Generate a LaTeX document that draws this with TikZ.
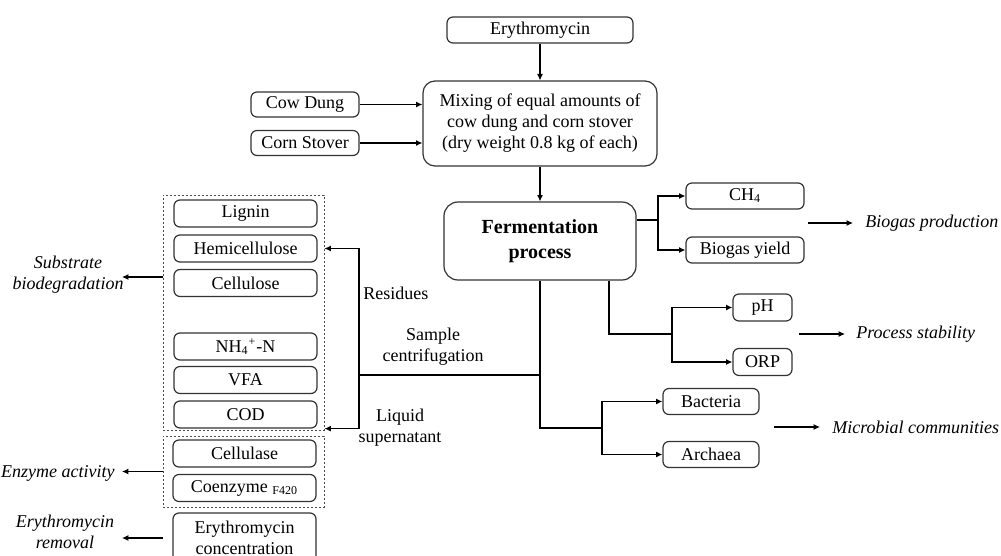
\documentclass[tikz,border=0pt]{standalone}
\usepackage{fontspec}
\setmainfont{Liberation Serif}
\usetikzlibrary{arrows.meta}
\begin{document}
\begin{tikzpicture}[x=0.5pt,y=-0.5pt]
	\tikzstyle{box}=[draw=black!80,rounded corners=3pt,line width=0.6pt,inner sep=0pt,minimum height=13pt,font=\fontsize{9}{10.5}\selectfont,align=center]
	\tikzstyle{group}=[draw=black!70,dash pattern=on 1.2pt off 0.8pt,line width=0.5pt,inner sep=0pt]
	\tikzstyle{result}=[font=\fontsize{9}{10.5}\selectfont\itshape,align=center,inner sep=1pt]
	\tikzstyle{note}=[font=\fontsize{9}{10.5}\selectfont,align=center,inner sep=1pt]
	\tikzstyle{edge}=[draw,line width=0.55pt,-{Latex[length=3.2pt,width=3pt]}]
	\tikzstyle{link}=[draw,line width=0.55pt]
	\useasboundingbox (0,0) rectangle (1001,556);
	\begin{scope}
		\node [box,minimum width=93pt] (ery) at (540,30) {Erythromycin};
		\node [box,minimum width=117pt,minimum height=42.5pt,rounded corners=6pt] (mix) at (540,123.5) {Mixing of equal amounts of\\cow dung and corn stover\\(dry weight 0.8 kg of each)};
		\node [box,minimum width=54pt,minimum height=12.5pt] (cow) at (305,104.5) {Cow Dung};
		\node [box,minimum width=54pt,minimum height=12.5pt] (corn) at (305,143) {Corn Stover};
		\node [box,minimum width=96pt,minimum height=39pt,rounded corners=7pt,font=\fontsize{10}{12.5}\selectfont\bfseries] (ferm) at (540,241) {Fermentation\\process};
		\node [box,minimum width=59pt] (ch4) at (745,196) {CH\textsubscript{4}};
		\node [box,minimum width=59pt] (yield) at (745,250) {Biogas yield};
		\node [box,minimum width=29.5pt,minimum height=13.5pt] (ph) at (762.5,307.5) {pH};
		\node [box,minimum width=29.5pt,minimum height=13.5pt] (orp) at (762.5,362) {ORP};
		\node [box,minimum width=48pt] (bac) at (711,401.5) {Bacteria};
		\node [box,minimum width=48pt] (arc) at (711,454.5) {Archaea};
		\node [box,minimum width=71.5pt,minimum height=13.5pt] (lignin) at (245.5,213.5) {Lignin};
		\node [box,minimum width=71.5pt,minimum height=13.5pt] (hemi) at (245.5,248.5) {Hemicellulose};
		\node [box,minimum width=71.5pt,minimum height=13.5pt] (cellu) at (245.5,283) {Cellulose};
		\node [box,minimum width=71.5pt,minimum height=13.5pt] (nh4) at (245.5,346.5) {NH\textsubscript{4}\textsuperscript{+}-N};
		\node [box,minimum width=71.5pt,minimum height=13.5pt] (vfa) at (245.5,380) {VFA};
		\node [box,minimum width=71.5pt,minimum height=13.5pt] (cod) at (245.5,414.5) {COD};
		\node [box,minimum width=71.5pt,minimum height=13.5pt] (cellulase) at (244.5,453.5) {Cellulase};
		\node [box,minimum width=71.5pt,minimum height=13.5pt] (coenz) at (244.5,488) {Coenzyme \textsubscript{F420}};
		\node [box,minimum width=71.5pt,minimum height=25pt] (eryc) at (244.5,538) {Erythromycin\\concentration};
		\node [group,minimum width=80.5pt,minimum height=117.5pt] (grp1) at (243.5,312.5) {};
		\node [group,minimum width=80.5pt,minimum height=35.5pt] (grp2) at (243.5,471.5) {};
		\node [result,anchor=west,inner xsep=6pt] (bprod) at (853,223) {Biogas production};
		\node [result,anchor=west,inner xsep=5.5pt] (pstab) at (845,334) {Process stability};
		\node [result,anchor=west,inner xsep=6pt] (micro) at (820,427) {Microbial communities};
		\node [result] (subst) at (68,275) {Substrate\\biodegradation};
		\node [result,anchor=east,inner xsep=3.5pt] (enz) at (122,473) {Enzyme activity};
		\node [result] (erem) at (65,532) {Erythromycin\\removal};
		\node [note,anchor=west] (resid) at (361,293) {Residues};
		\node [note] (samp) at (433,347) {Sample\\centrifugation};
		\node [note] (liq) at (400,428) {Liquid\\supernatant};
		\coordinate (gasbr) at (658,220);
		\coordinate (stabdn) at (609,334);
		\coordinate (stabbr) at (672,334);
		\coordinate (micbr) at (602,428);
		\coordinate (sampbr) at (359,375);
		\coordinate (bpfrom) at (808,223);
		\coordinate (psfrom) at (799,334);
		\coordinate (mcfrom) at (774,427);
		\coordinate (subto) at (122,277);
		\coordinate (remfrom) at (163,538);
		\coordinate (remto) at (122,538);
		\path[edge] (ery) -- (mix);
		\path[edge] (cow) -- (cow -| mix.west);
		\path[edge] (corn) -- (corn -| mix.west);
		\path[edge] (mix) -- (ferm);
		\path[link] (ferm.east |- gasbr) -- (gasbr);
		\path[edge] (gasbr) |- (ch4);
		\path[edge] (gasbr) |- (yield);
		\path[link] (stabdn |- ferm.south) -- (stabdn) -- (stabbr);
		\path[edge] (stabbr) |- (ph);
		\path[edge] (stabbr) |- (orp);
		\path[link] (ferm.south) |- (micbr);
		\path[edge] (micbr) |- (bac);
		\path[edge] (micbr) |- (arc);
		\path[link] (ferm.south |- sampbr) -- (sampbr);
		\path[edge] (sampbr) |- (hemi -| grp1.east);
		\path[edge] (sampbr) |- (cod.south -| grp1.east);
		\path[edge] (bpfrom) -- (bprod);
		\path[edge] (psfrom) -- (pstab);
		\path[edge] (mcfrom) -- (micro);
		\path[edge] (grp1.west |- subto) -- (subto);
		\path[edge] (grp2.west) -- (grp2.west -| enz.east);
		\path[edge] (remfrom) -- (remto);
	\end{scope}
\end{tikzpicture}
\end{document}
